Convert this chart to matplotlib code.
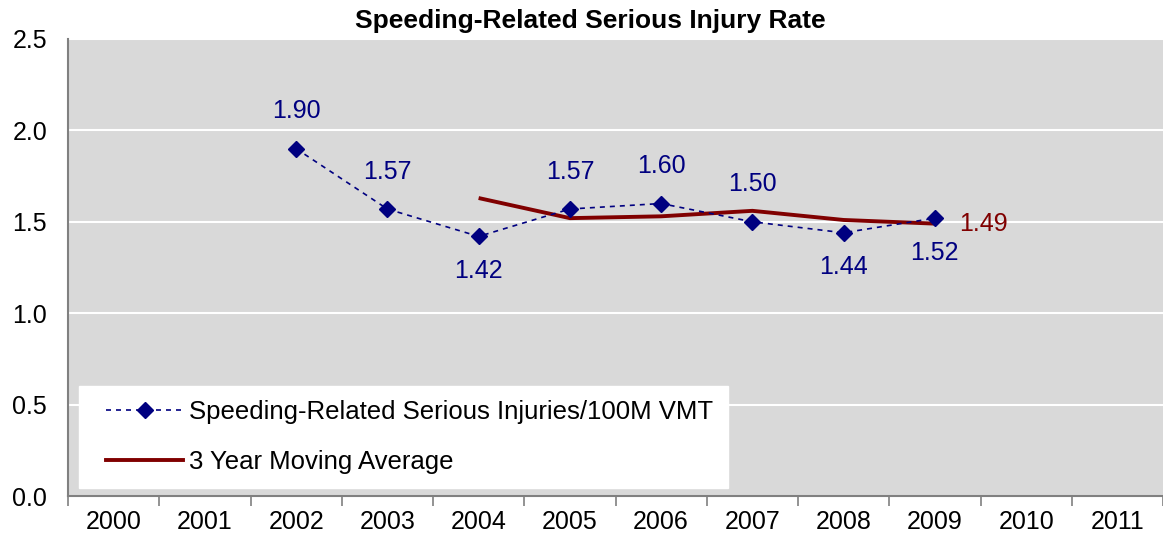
import numpy as np
import matplotlib.pyplot as plt
from matplotlib.lines import Line2D
from matplotlib.legend_handler import HandlerLine2D

years = ['2000', '2001', '2002', '2003', '2004', '2005',
         '2006', '2007', '2008', '2009', '2010', '2011']

rate_years = ['2002', '2003', '2004', '2005', '2006', '2007', '2008', '2009']
rate = [1.90, 1.57, 1.42, 1.57, 1.60, 1.50, 1.44, 1.52]
rate_label_pos = ['above', 'above', 'below', 'above', 'above', 'above', 'below', 'below']

avg_years = ['2004', '2005', '2006', '2007', '2008', '2009']
moving_avg = [1.63, 1.52, 1.53, 1.56, 1.51, 1.49]

yticks = [0.0, 0.5, 1.0, 1.5, 2.0, 2.5]

blue = '#000080'
red = '#800000'
plt.rcParams['font.family'] = ['Liberation Sans', 'DejaVu Sans']

W, H = 1163, 548
fig = plt.figure(figsize=(W / 100, H / 100), dpi=100)
ax = fig.add_axes([68 / W, (H - 496) / H, (W - 68) / W, (496 - 39) / H])
ax.set_facecolor('#d9d9d9')

xr = np.array([years.index(y) + 0.5 for y in rate_years])
xa = np.array([years.index(y) + 0.5 for y in avg_years])

ax.plot(xr, rate, color=blue, ls=(0, (3, 3)), lw=1.2, marker='D', ms=8.5,
        mfc=blue, mec=blue, zorder=4)
ax.plot(xa, moving_avg, color=red, lw=2.8, zorder=3, solid_capstyle='butt')

# data labels above / below the points
for x, v, pos in zip(xr, rate, rate_label_pos):
    dy = 27 if pos == 'above' else -25
    ax.annotate(f'{v:.2f}', (x, v), xytext=(0, dy), textcoords='offset points',
                ha='center', va='center', color=blue, fontsize=18)

ax.annotate(f'{moving_avg[-1]:.2f}', (xa[-1], moving_avg[-1]), xytext=(35, 0),
            textcoords='offset points', ha='center', va='center',
            color=red, fontsize=18)

ax.set_xlim(0, len(years))
ax.set_ylim(0, 2.5)
ax.set_yticks(yticks)
ax.set_yticklabels([f'{t:.1f}' for t in yticks], fontsize=18)
ax.yaxis.grid(True, color='white', lw=1.5)
ax.set_axisbelow(True)
ax.tick_params(axis='y', length=0, pad=15)

ax.set_xticks(np.arange(len(years) + 1))
ax.set_xticklabels([])
ax.set_xticks(np.arange(len(years)) + 0.5, minor=True)
ax.set_xticklabels(years, minor=True, fontsize=18)
ax.tick_params(axis='x', which='major', length=7, color='#808080', width=1.2)
ax.tick_params(axis='x', which='minor', length=0, pad=10)

for s in ['top', 'right']:
    ax.spines[s].set_visible(False)
for s in ['left', 'bottom']:
    ax.spines[s].set_color('#808080')
    ax.spines[s].set_linewidth(1.5)

handles = [
    Line2D([], [], color=blue, ls=(0, (3, 3)), lw=1.2, marker='D', ms=8.5,
           mfc=blue, mec=blue),
    Line2D([], [], color=red, lw=2.8),
]
leg = ax.legend(handles, ['Speeding-Related Serious Injuries/100M VMT',
                          '3 Year Moving Average'],
                loc='lower left', bbox_to_anchor=(11 / 1095, 8 / 457),
                borderaxespad=0, fontsize=18.5, frameon=True, fancybox=False,
                handlelength=3.5, handletextpad=0.25, borderpad=0.55,
                labelspacing=1.0,
                handler_map={Line2D: HandlerLine2D(xpad=0.5)})
leg.get_frame().set_facecolor('white')
leg.get_frame().set_edgecolor('white')
leg.get_frame().set_alpha(1)

fig.text(590 / W, 1 - 21 / H, 'Speeding-Related Serious Injury Rate',
         ha='center', va='center', fontsize=19, fontweight='bold')

fig.savefig('out.png', dpi=100)
